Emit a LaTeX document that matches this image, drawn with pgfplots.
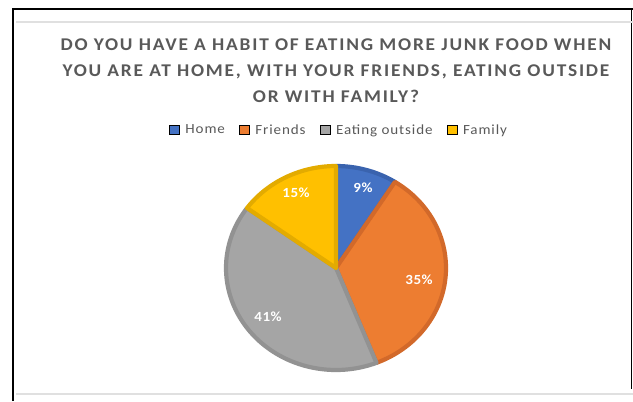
\documentclass[border=0pt]{standalone}
\usepackage{pgfplots}
\pgfplotsset{compat=1.18}
\usepackage{pgfplotstable}
\usepackage{fontspec}
\setmainfont{Carlito}
\newfontfamily\titlefont[FakeStretch=1.08,LetterSpace=10]{Carlito}
\newfontfamily\legfont[FakeStretch=1.08,LetterSpace=6.5]{Carlito}
\newfontfamily\labfont[FakeStretch=1.08,LetterSpace=4]{Carlito}
\definecolor{cHome}{HTML}{4472C4}
\definecolor{cHomeD}{HTML}{3A63AE}
\definecolor{cFri}{HTML}{ED7D31}
\definecolor{cFriD}{HTML}{D2692A}
\definecolor{cOut}{HTML}{A5A5A5}
\definecolor{cOutD}{HTML}{929292}
\definecolor{cFam}{HTML}{FFC000}
\definecolor{cFamD}{HTML}{E3AB00}
\definecolor{txt}{HTML}{595959}
\pgfplotstableread{
name value
Home 9
Friends 35
Outside 41
Family 15
}\piedata
\begin{document}
\begin{tikzpicture}[x=1bp,y=1bp]
\useasboundingbox (0,0) rectangle (633,401);
\pgfplotstablegetelem{0}{value}\of\piedata \let\vA\pgfplotsretval
\pgfplotstablegetelem{1}{value}\of\piedata \let\vB\pgfplotsretval
\pgfplotstablegetelem{2}{value}\of\piedata \let\vC\pgfplotsretval
\pgfplotstablegetelem{3}{value}\of\piedata \let\vD\pgfplotsretval
\pgfmathsetmacro\aA{90}
\pgfmathsetmacro\aB{\aA-3.6*\vA}
\pgfmathsetmacro\aC{\aB-3.6*\vB}
\pgfmathsetmacro\aD{\aC-3.6*\vC}
\pgfmathsetmacro\aE{\aD-3.6*\vD}
\begin{axis}[at={(0,0)},anchor=south west,x=1bp,y=1bp,
  xmin=0,xmax=633,ymin=0,ymax=401,hide axis,clip=false,
  legend columns=4,
  legend style={at={(axis cs:339,271)},anchor=center,draw=none,fill=none,
    font=\legfont\fontsize{14}{14}\selectfont\color{txt},
    /tikz/every even column/.append style={column sep=12bp},
    /tikz/every odd column/.append style={column sep=4bp},
    inner sep=0pt},
  legend image code/.code={\fill[#1] (0bp,-4bp) rectangle (10bp,5bp);},
]
\addplot[forget plot,fill=cHome,draw=cHomeD,line width=4.2bp,line join=round,domain=\aB:\aA,samples=40,variable=\t]
  ({336+110*cos(t)},{133+102*sin(t)}) -- (axis cs:336,133) -- cycle;
\addplot[forget plot,fill=cFri,draw=cFriD,line width=4.2bp,line join=round,domain=\aC:\aB,samples=80,variable=\t]
  ({336+110*cos(t)},{133+102*sin(t)}) -- (axis cs:336,133) -- cycle;
\addplot[forget plot,fill=cOut,draw=cOutD,line width=4.2bp,line join=round,domain=\aD:\aC,samples=80,variable=\t]
  ({336+110*cos(t)},{133+102*sin(t)}) -- (axis cs:336,133) -- cycle;
\addplot[forget plot,fill=cFam,draw=cFamD,line width=4.2bp,line join=round,domain=\aE:\aD,samples=40,variable=\t]
  ({336+110*cos(t)},{133+102*sin(t)}) -- (axis cs:336,133) -- cycle;
\addlegendimage{fill=cHome}\addlegendentry{Home}
\addlegendimage{fill=cFri}\addlegendentry{Friends}
\addlegendimage{fill=cOut}\addlegendentry{Eating outside}
\addlegendimage{fill=cFam}\addlegendentry{Family}
\begin{scope}[every node/.style={text=white,font=\labfont\bfseries\fontsize{14}{14}\selectfont}]
\node at (axis cs:363,213) {\vA\%};
\node at (axis cs:419,121) {\vB\%};
\node at (axis cs:268,84) {\vC\%};
\node at (axis cs:296,208) {\vD\%};
\end{scope}
\end{axis}
\node[align=center,text=txt,font=\titlefont\bfseries\fontsize{18}{26}\selectfont] at (336,330)
  {DO YOU HAVE A HABIT OF EATING MORE JUNK FOOD WHEN\\YOU ARE AT HOME, WITH YOUR FRIENDS, EATING OUTSIDE\\OR WITH FAMILY?};
\draw[black,line width=1.3bp] (13,0) -- (13,392) -- (633,392);
\draw[black,line width=1.3bp] (631.5,392) -- (631.5,12);
\draw[black!12,line width=1.3bp] (16,379) -- (633,379);
\draw[black!12,line width=1.3bp] (16,7) -- (633,7);
\end{tikzpicture}
\end{document}
